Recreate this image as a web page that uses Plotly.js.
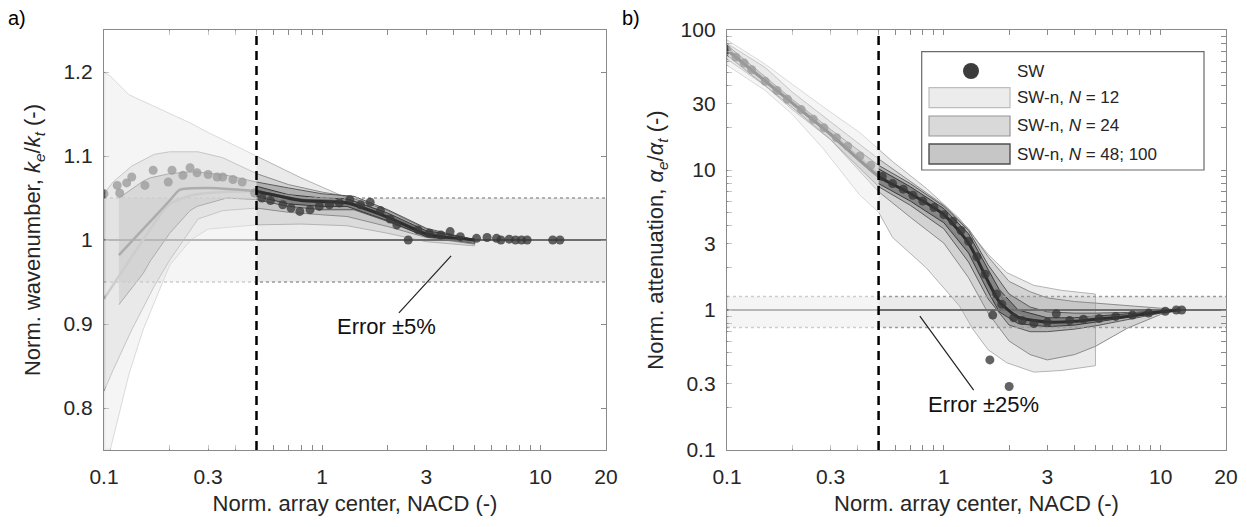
<!DOCTYPE html>
<html><head><meta charset="utf-8">
<script src="https://cdn.plot.ly/plotly-3.0.1.min.js"></script>
<style>html,body{margin:0;padding:0;background:#fff}#plot{width:1247px;height:527px}</style>
</head><body><div id="plot"></div>
<script>
// ---------- shared ----------
const nacdLimit = 0.5;
const xTickVals = [0.1,0.3,1,3,10,20];
const xTickText = ['0.1','0.3','1','3','10','20'];
const xMinorVals = [0.2,0.4,0.5,0.6,0.7,0.8,0.9,2,4,5,6,7,8,9];
const legendLabels = ['SW', 'SW-n, <i>N</i> = 12', 'SW-n, <i>N</i> = 24', 'SW-n, <i>N</i> = 48; 100'];

// ---------- panel a: wavenumber ----------
const kTickVals = [0.8,0.9,1,1.1,1.2];
const kTickText = ['0.8','0.9','1','1.1','1.2'];
const errKx = [0.1, 20];
const errK = [0.95, 1.05];
const refK = [1, 1];

const k12x = [0.1,0.107,0.13,0.151,0.2,0.25,0.3,0.5,0.8,1.3,2,3,5];
const k12up = [1.2,1.195,1.173,1.165,1.15,1.139,1.128,1.10,1.074,1.05,1.03,1.01,0.996];
const k12lo = [0.72,0.75,0.84,0.893,0.97,1.0,1.013,1.018,1.019,1.017,1.008,0.998,0.993];

const k24x = [0.1,0.11,0.134,0.17,0.2,0.27,0.35,0.5,0.7,1.0,1.3,2,3,5];
const k24up = [1.055,1.069,1.088,1.102,1.105,1.105,1.098,1.079,1.066,1.057,1.052,1.035,1.013,0.998];
const k24lo = [0.82,0.845,0.893,0.945,0.976,1.025,1.035,1.038,1.033,1.03,1.028,1.016,1.003,0.995];

const k48x = [0.117,0.151,0.163,0.2,0.248,0.267,0.366,0.5,0.7,1.0,1.4,2,3,5];
const k48up = [1.05,1.07,1.074,1.079,1.081,1.081,1.077,1.069,1.062,1.055,1.052,1.036,1.014,1.0];
const k48lo = [0.923,0.96,0.975,1.008,1.035,1.04,1.05,1.048,1.04,1.036,1.036,1.022,1.004,0.996];

const k100x = [0.5,0.7,1.0,1.3,2,3,5];
const k100up = [1.064,1.054,1.05,1.049,1.032,1.011,1.001];
const k100lo = [1.052,1.043,1.04,1.04,1.023,1.004,0.998];

const kMean12x = [0.1,0.134,0.17,0.2,0.25,0.3,0.5,0.8,1.3,2,3,5];
const kMean12y = [0.93,0.98,1.02,1.043,1.053,1.056,1.058,1.05,1.046,1.028,1.008,0.999];
const kMean48x = [0.117,0.15,0.2,0.223,0.3,0.5,0.8,1.3,2,3,5];
const kMean48y = [0.982,1.012,1.047,1.06,1.062,1.058,1.048,1.045,1.028,1.008,1.0];
const kMean100x = [0.5,0.8,1.3,2,3,5];
const kMean100y = [1.058,1.047,1.044,1.027,1.007,1.0];

const swKx = [0.1,0.115,0.118,0.127,0.134,0.154,0.168,0.197,0.205,0.23,0.248,0.267,0.3,0.33,0.35,0.39,0.43,0.49,0.53,0.58,0.66,0.72,0.79,0.88,0.97,1.08,1.2,1.34,1.5,1.66,1.85,2.05,2.2,2.48,2.75,3.1,3.5,3.86,4.3,5.1,5.7,6.3,6.6,7.2,7.7,8.2,8.7,11.4,12.3];
const swKy = [1.055,1.065,1.056,1.068,1.075,1.065,1.083,1.069,1.083,1.077,1.086,1.08,1.078,1.075,1.075,1.072,1.069,1.056,1.05,1.047,1.042,1.038,1.034,1.036,1.04,1.042,1.044,1.048,1.042,1.045,1.035,1.025,1.018,1.0,1.012,1.008,1.006,1.01,1.004,1.002,1.003,1.002,1.0,1.001,1.0,1.0,1.0,1.0,1.0];

// ---------- panel b: attenuation ----------
const aTickVals = [0.1,0.3,1,3,10,30,100];
const aTickText = ['0.1','0.3','1','3','10','30','100'];
const aMinorVals = [0.2,0.4,0.5,0.6,0.7,0.8,0.9,2,4,5,6,7,8,9,20,40,50,60,70,80,90];
const errAx = [0.1, 20];
const errA = [0.75, 1.25];
const refA = [1, 1];

const a12x = [0.1,0.15,0.2,0.28,0.41,0.5,0.58,0.83,1.18,1.36,1.6,1.95,2.6,3.5,5];
const a12up = [85,57,41,28,18.5,14,11.5,7.4,4.5,3.4,2.5,1.85,1.5,1.38,1.30];
const a12lo = [56,37,25,14,6.6,5.0,3.3,2.0,1.07,0.73,0.52,0.42,0.36,0.37,0.40];

const a24x = [0.1,0.15,0.2,0.3,0.5,0.7,1.0,1.3,1.6,2.0,2.5,3.0,4.0,5.0,7,10,12];
const a24up = [80,54,36,22,12,8.3,5.6,3.8,2.4,1.6,1.35,1.22,1.15,1.12,1.08,1.03,1.0];
const a24lo = [62,40,27,16.5,7.0,4.6,3.0,1.7,0.95,0.6,0.48,0.44,0.48,0.55,0.74,0.93,1.0];

const a48x = [0.1,0.2,0.3,0.5,0.7,1.0,1.3,1.6,2.0,2.5,3,4,5,7,10,12];
const a48up = [78,32,19.5,10.8,8.0,5.5,3.7,2.1,1.3,1.05,0.97,0.95,0.95,0.96,0.99,1.0];
const a48lo = [66,28,16.5,7.6,5.6,3.8,2.2,1.2,0.78,0.7,0.7,0.73,0.77,0.85,0.95,1.0];

const a100x = [0.5,0.7,1,1.3,1.6,1.8,2.2,3,4,5,7,10,12];
const a100up = [10.2,7.6,5.3,3.5,1.95,1.4,1.0,0.88,0.88,0.9,0.94,0.98,1.0];
const a100lo = [8.0,6.0,4.2,2.55,1.35,0.97,0.8,0.76,0.78,0.82,0.88,0.96,1.0];

const aMean12x = [0.1,0.2,0.3,0.5,0.7,1.0,1.3,1.6,2,2.5,3,4,5];
const aMean12y = [74,31,18.5,9.4,6.7,4.5,2.8,1.6,1.0,0.85,0.82,0.85,0.9];
const aMean48x = [0.1,0.2,0.3,0.5,0.7,1.0,1.3,1.6,1.8,2.2,3,4,5,7,10,12];
const aMean48y = [72,30,18,9.0,6.8,4.8,3.0,1.6,1.15,0.89,0.82,0.83,0.86,0.9,0.97,1.0];

const swAx = [0.1,0.11,0.12,0.13,0.15,0.17,0.19,0.22,0.25,0.28,0.32,0.36,0.41,0.46,0.52,0.58,0.65,0.72,0.8,0.9,1.0,1.1,1.2,1.3,1.42,1.55,1.63,1.68,1.75,1.85,2.0,2.1,2.3,2.6,3.0,3.3,3.8,4.4,5.2,6.2,7.4,8.8,10.5,11.8,12.5];
const swAy = [72,64,58,52,43,37,32,27,23,20,17,14.8,12.6,10.8,9.0,8.0,7.3,6.6,6.0,5.4,4.8,4.3,3.7,3.1,2.4,1.8,0.44,0.92,1.3,1.1,0.284,0.88,0.84,0.8,0.82,0.94,0.84,0.86,0.87,0.9,0.92,0.95,0.98,1.0,1.0];

// ---------- styles ----------
const FONT = 'Liberation Sans, Arial, Helvetica, sans-serif';
const TXT = '#262626';
const AXC = '#8a8a8a';
const st = {
  err: '#ebebeb',
  f12: 'rgba(170,170,170,0.25)', e12: '#b4b4b4',
  f24: 'rgba(140,140,140,0.25)', e24: '#8c8c8c',
  f48: 'rgba(90,90,90,0.28)', e48: '#5a5a5a',
  f100: 'rgba(60,60,60,0.38)', e100: '#3a3a3a'
};

function band(xs, up, lo, fill, edge, xa, ya) {
  return {x: xs.concat(xs.slice().reverse()), y: up.concat(lo.slice().reverse()),
    mode: 'lines', fill: 'toself', fillcolor: fill, line: {color: edge, width: 1},
    xaxis: xa, yaxis: ya, hoverinfo: 'skip', showlegend: false};
}
function errBand(xs, lims, xa, ya) {
  return {x: [xs[0], xs[1], xs[1], xs[0]], y: [lims[0], lims[0], lims[1], lims[1]],
    mode: 'lines', fill: 'toself', fillcolor: st.err, line: {width: 0},
    xaxis: xa, yaxis: ya, hoverinfo: 'skip', showlegend: false};
}
function hline(xs, ys, color, width, dash, xa, ya) {
  return {x: xs, y: ys, mode: 'lines', line: {color, width, dash},
    xaxis: xa, yaxis: ya, hoverinfo: 'skip', showlegend: false};
}
function line(xs, ys, color, width, xa, ya) {
  return {x: xs, y: ys, mode: 'lines', line: {color, width, shape: 'spline', smoothing: 0.6},
    xaxis: xa, yaxis: ya, hoverinfo: 'skip', showlegend: false};
}
function pts(xs, ys, xa, ya) {
  return {x: xs, y: ys, mode: 'markers', marker: {size: 9, color: 'rgba(55,55,55,0.78)', line: {width: 0}},
    xaxis: xa, yaxis: ya, hoverinfo: 'skip', showlegend: false};
}

const traces = [
  errBand(errKx, errK, 'x', 'y'),
  band(k12x, k12up, k12lo, st.f12, st.e12, 'x', 'y'),
  band(k24x, k24up, k24lo, st.f24, st.e24, 'x', 'y'),
  band(k48x, k48up, k48lo, st.f48, st.e48, 'x', 'y'),
  band(k100x, k100up, k100lo, st.f100, st.e100, 'x', 'y'),
  hline(errKx, refK, '#6e6e6e', 2, 'solid', 'x', 'y'),
  hline(errKx, [errK[0], errK[0]], '#9a9a9a', 1.5, 'dot', 'x', 'y'),
  hline(errKx, [errK[1], errK[1]], '#9a9a9a', 1.5, 'dot', 'x', 'y'),
  line(kMean12x, kMean12y, '#9a9a9a', 2.5, 'x', 'y'),
  line(kMean48x, kMean48y, '#5a5a5a', 2.5, 'x', 'y'),
  line(kMean100x, kMean100y, '#2e2e2e', 3, 'x', 'y'),
  pts(swKx, swKy, 'x', 'y'),

  errBand(errAx, errA, 'x2', 'y2'),
  band(a12x, a12up, a12lo, st.f12, st.e12, 'x2', 'y2'),
  band(a24x, a24up, a24lo, st.f24, st.e24, 'x2', 'y2'),
  band(a48x, a48up, a48lo, st.f48, st.e48, 'x2', 'y2'),
  band(a100x, a100up, a100lo, st.f100, st.e100, 'x2', 'y2'),
  hline(errAx, refA, '#6e6e6e', 2, 'solid', 'x2', 'y2'),
  hline(errAx, [errA[0], errA[0]], '#9a9a9a', 1.5, 'dot', 'x2', 'y2'),
  hline(errAx, [errA[1], errA[1]], '#9a9a9a', 1.5, 'dot', 'x2', 'y2'),
  line(aMean12x, aMean12y, '#8a8a8a', 2.5, 'x2', 'y2'),
  line(aMean48x, aMean48y, '#2e2e2e', 3, 'x2', 'y2'),
  pts(swAx, swAy, 'x2', 'y2')
];

function minorCfg(vals) {
  return {tickmode: 'array', tickvals: vals, ticks: 'inside', ticklen: 5, tickwidth: 1, tickcolor: AXC, showgrid: false};
}
function xAxis(domain, anchor) {
  return {type: 'log', domain, anchor, range: [-1, Math.log10(20)],
    tickmode: 'array', tickvals: xTickVals, ticktext: xTickText,
    minor: minorCfg(xMinorVals),
    ticks: 'inside', ticklen: 5, tickwidth: 1, tickcolor: AXC,
    showline: true, linecolor: AXC, linewidth: 1.2, mirror: 'allticks',
    showgrid: false, zeroline: false, ticklabelstandoff: 8,
    tickfont: {family: FONT, size: 21, color: TXT},
    title: {text: 'Norm. array center, NACD (-)', font: {family: FONT, size: 22, color: TXT}, standoff: 8}};
}
function yAxis(domain, anchor, type, range, tv, tt, minor, title, standoff) {
  const ax = {type, domain, anchor, range, tickmode: 'array', tickvals: tv, ticktext: tt,
    ticks: 'inside', ticklen: 5, tickwidth: 1, tickcolor: AXC,
    showline: true, linecolor: AXC, linewidth: 1.2, mirror: 'allticks',
    showgrid: false, zeroline: false, ticklabelstandoff: 6,
    tickfont: {family: FONT, size: 21, color: TXT},
    title: {text: title, font: {family: FONT, size: 22, color: TXT}, standoff}};
  if (minor) ax.minor = minorCfg(minor);
  return ax;
}

const yDom = [1 - 450/527, 1 - 30/527];
const P = (px) => px / 1247, Q = (py) => 1 - py / 527;

const shapes = [
  {type: 'rect', xref: 'x', yref: 'y domain', x0: 0.1015, x1: nacdLimit, y0: 0.003, y1: 0.997,
   fillcolor: 'rgba(255,255,255,0.5)', line: {width: 0}, layer: 'above'},
  {type: 'rect', xref: 'x2', yref: 'y2 domain', x0: 0.1015, x1: nacdLimit, y0: 0.003, y1: 0.997,
   fillcolor: 'rgba(255,255,255,0.5)', line: {width: 0}, layer: 'above'},
  {type: 'line', xref: 'x', yref: 'y domain', x0: nacdLimit, x1: nacdLimit, y0: 0, y1: 1,
   line: {color: '#000', width: 2.5, dash: '9px,6px'}, layer: 'above'},
  {type: 'line', xref: 'x2', yref: 'y2 domain', x0: nacdLimit, x1: nacdLimit, y0: 0, y1: 1,
   line: {color: '#000', width: 2.5, dash: '9px,6px'}, layer: 'above'},
  // legend
  {type: 'rect', xref: 'paper', yref: 'paper', x0: P(921.7), x1: P(1204), y0: Q(170), y1: Q(51.7),
   fillcolor: '#fff', line: {color: '#6a6a6a', width: 1.2}, layer: 'above'},
  {type: 'circle', xref: 'paper', yref: 'paper', x0: P(963), x1: P(979), y0: Q(79), y1: Q(63),
   fillcolor: '#3c3c3c', line: {width: 0}, layer: 'above'},
  {type: 'rect', xref: 'paper', yref: 'paper', x0: P(929), x1: P(1010), y0: Q(107.7), y1: Q(87.7),
   fillcolor: '#ececec', line: {color: '#bdbdbd', width: 1.2}, layer: 'above'},
  {type: 'rect', xref: 'paper', yref: 'paper', x0: P(929), x1: P(1010), y0: Q(136), y1: Q(116),
   fillcolor: '#d9d9d9', line: {color: '#959595', width: 1.2}, layer: 'above'},
  {type: 'rect', xref: 'paper', yref: 'paper', x0: P(929), x1: P(1010), y0: Q(164), y1: Q(144),
   fillcolor: '#c6c6c6', line: {color: '#505050', width: 1.4}, layer: 'above'}
];

const legY = [71, 97.7, 126, 154];
const annotations = legendLabels.map((t, i) => ({
  xref: 'paper', yref: 'paper', x: P(1015), y: Q(legY[i]), xanchor: 'left', yanchor: 'middle',
  text: t, showarrow: false, font: {family: FONT, size: 17, color: TXT}
}));
annotations.push(
  {xref: 'paper', yref: 'paper', x: P(6), y: Q(18), xanchor: 'left', yanchor: 'middle', text: 'a)',
   showarrow: false, font: {family: FONT, size: 20, color: '#000'}},
  {xref: 'paper', yref: 'paper', x: P(620), y: Q(18), xanchor: 'left', yanchor: 'middle', text: 'b)',
   showarrow: false, font: {family: FONT, size: 20, color: '#000'}},
  {xref: 'x', yref: 'y', x: Math.log10(3.9), y: 0.981, ax: -65, ay: 71, text: 'Error ±5%',
   showarrow: true, arrowhead: 0, arrowwidth: 1.2, arrowcolor: '#222', standoff: 0,
   font: {family: FONT, size: 22, color: '#111'}},
  {xref: 'x2', yref: 'y2', x: Math.log10(0.775), y: Math.log10(0.905), ax: 64, ay: 88, text: 'Error ±25%',
   showarrow: true, arrowhead: 0, arrowwidth: 1.2, arrowcolor: '#222', standoff: 0,
   font: {family: FONT, size: 22, color: '#111'}}
);

const layout = {
  width: 1247, height: 527, margin: {l: 0, r: 0, t: 0, b: 0},
  paper_bgcolor: '#fff', plot_bgcolor: '#fff', showlegend: false,
  xaxis: xAxis([104/1247, 606/1247], 'y'),
  yaxis: yAxis(yDom, 'x', 'linear', [0.75, 1.25], kTickVals, kTickText, null,
    'Norm. wavenumber, <i>k</i><sub><i>e</i></sub>/<i>k</i><sub><i>t</i></sub> (-)', 16),
  xaxis2: xAxis([727/1247, 1226/1247], 'y2'),
  yaxis2: yAxis(yDom, 'x2', 'log', [-1, 2], aTickVals, aTickText, aMinorVals,
    'Norm. attenuation, <i>α</i><sub><i>e</i></sub>/<i>α</i><sub><i>t</i></sub> (-)', 10),
  shapes, annotations
};

Plotly.newPlot('plot', traces, layout, {staticPlot: true, displayModeBar: false});
</script>
</body></html>
